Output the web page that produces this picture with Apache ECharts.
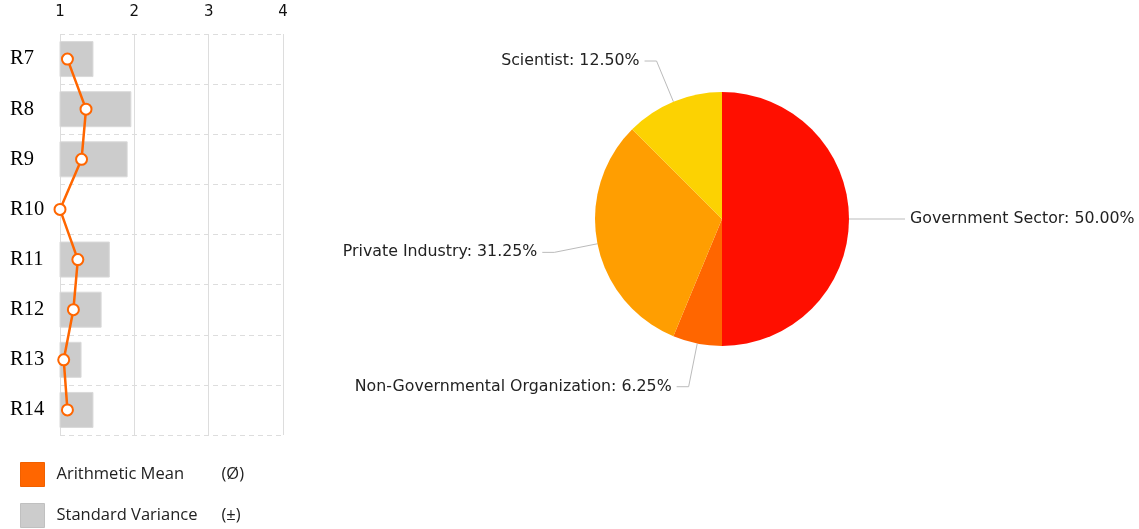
<!DOCTYPE html>
<html>
<head>
<meta charset="utf-8">
<script src="https://cdn.jsdelivr.net/npm/echarts@6/dist/echarts.min.js"></script>
<style>
  html, body { margin: 0; padding: 0; background: #ffffff; }
  #chart { width: 1139px; height: 529px; }
</style>
</head>
<body>
<div id="chart"></div>
<script>
// Rating items shown on the left panel
var categories = ['R7', 'R8', 'R9', 'R10', 'R11', 'R12', 'R13', 'R14'];
// Arithmetic mean per item
var meanValues = [1.10, 1.35, 1.29, 1.00, 1.24, 1.18, 1.05, 1.10];
// Upper end of the standard variance band per item
var varianceValues = [1.45, 1.96, 1.91, 1.00, 1.67, 1.56, 1.29, 1.45];
// Scale tick labels
var scaleTicks = [1, 2, 3, 4];

// Respondent sectors (counts)
var sectorNames = ['Government Sector', 'Non-Governmental Organization', 'Private Industry', 'Scientist'];
var sectorCounts = [8, 1, 5, 2];
var sectorColors = ['#FF0F00', '#FF6600', '#FF9E01', '#FCD202'];

var sansFont = '"DejaVu Sans", Verdana, sans-serif';
var legendFont = '"Open Sans", "Segoe UI", sans-serif';

var chart = echarts.init(document.getElementById('chart'));

chart.setOption({
  animation: false,
  backgroundColor: '#ffffff',
  grid: {
    left: 60,
    top: 34,
    width: 223,
    height: 401,
    containLabel: false
  },
  legend: {
    orient: 'vertical',
    left: 20,
    top: 462,
    padding: 0,
    itemWidth: 24,
    itemHeight: 24,
    itemGap: 16,
    selectedMode: false,
    data: [
      { name: 'Arithmetic Mean', icon: 'rect', itemStyle: { color: '#FF6600', borderColor: '#f06000', borderWidth: 1 } },
      { name: 'Standard Variance', icon: 'rect', itemStyle: { color: '#cccccc', borderColor: '#c0c0c0', borderWidth: 1 } }
    ],
    formatter: function (name) {
      var sym = name === 'Arithmetic Mean' ? '(Ø)' : '(±)';
      return '{n|' + name + '}{s|' + sym + '}';
    },
    textStyle: {
      padding: [0, 0, 0, 7],
      rich: {
        n: { fontFamily: legendFont, fontSize: 16.5, color: '#222222', width: 165 },
        s: { fontFamily: legendFont, fontSize: 16.5, color: '#222222' }
      }
    }
  },
  xAxis: {
    type: 'value',
    position: 'top',
    min: scaleTicks[0],
    max: scaleTicks[scaleTicks.length - 1],
    interval: 1,
    axisLine: { show: false },
    axisTick: { show: false },
    axisLabel: {
      margin: 14,
      fontFamily: sansFont,
      fontSize: 15,
      color: '#111111'
    },
    splitLine: { show: true, lineStyle: { color: '#dddddd', width: 1, type: 'solid' } }
  },
  yAxis: {
    type: 'category',
    inverse: true,
    data: categories,
    axisLine: { show: false },
    axisTick: { show: false },
    axisLabel: {
      align: 'left',
      margin: 50,
      fontFamily: '"Liberation Serif", "Times New Roman", serif',
      fontSize: 20.5,
      color: '#000000'
    },
    splitLine: { show: true, lineStyle: { color: '#dddddd', width: 1, type: [5, 4] } }
  },
  series: [
    {
      name: 'Standard Variance',
      type: 'bar',
      data: varianceValues,
      barWidth: 36,
      clip: true,
      itemStyle: { color: '#cccccc', borderColor: '#d9d9d9', borderWidth: 1 },
      z: 2
    },
    {
      name: 'Arithmetic Mean',
      type: 'line',
      data: meanValues,
      symbol: 'circle',
      symbolSize: 11,
      clip: false,
      lineStyle: { color: '#FF6600', width: 2.5 },
      itemStyle: { color: '#ffffff', borderColor: '#FF6600', borderWidth: 2 },
      z: 5
    },
    {
      name: 'Sectors',
      type: 'pie',
      center: [722, 219],
      radius: 127,
      startAngle: 90,
      clockwise: true,
      avoidLabelOverlap: false,
      data: sectorNames.map(function (n, i) {
        return { name: n, value: sectorCounts[i], itemStyle: { color: sectorColors[i] } };
      }),
      label: {
        show: true,
        formatter: function (p) { return p.name + ': ' + p.percent.toFixed(2) + '%'; },
        fontFamily: sansFont,
        fontSize: 15.8,
        color: '#222222',
        distanceToLabelLine: 5
      },
      labelLine: {
        show: true,
        length: 44,
        length2: 12,
        lineStyle: { color: '#bbbbbb', width: 1 }
      },
      emphasis: { disabled: true }
    }
  ]
});
</script>
</body>
</html>
